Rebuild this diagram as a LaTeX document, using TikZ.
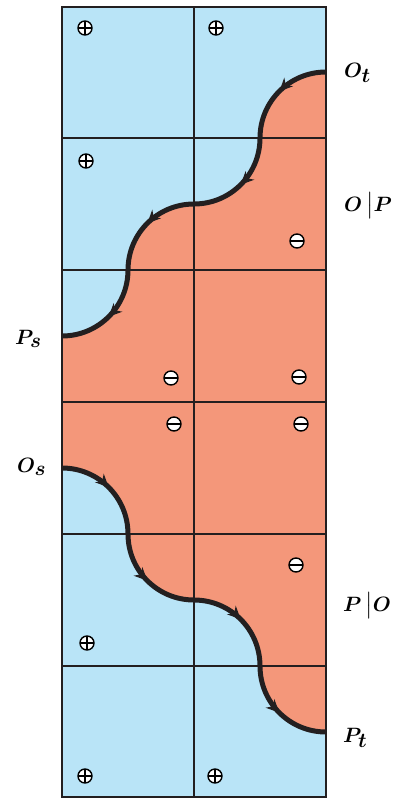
\documentclass[tikz,border=0pt]{standalone}
\usepackage{amsmath, amssymb}
\usepackage{tikz}
\usetikzlibrary{arrows.meta, decorations.markings}
\usepackage{xcolor}
\definecolor{cellblue}{HTML}{B9E4F7}
\definecolor{cellsalmon}{HTML}{F4977A}
\definecolor{gridink}{HTML}{231F20}

\tikzset{
  poscharge/.pic={
    \draw[fill=white, line width=1.4pt] (0,0) circle (7);
    \draw[line width=1.4pt] (-7,0) -- (7,0) (0,-7) -- (0,7);
  },
  negcharge/.pic={
    \draw[fill=white, line width=1.4pt] (0,0) circle (7);
    \draw[line width=1.4pt] (-7,0) -- (7,0);
  },
  flowline/.style={line width=5pt, gridink,
    decoration={markings,
      mark=between positions 0.125 and 1 step 0.25 with
        {\arrow{Stealth[length=13pt, width=12pt, inset=4pt]}}},
    postaction=decorate},
  edgelabel/.style={anchor=base west, inner sep=0pt,
    font=\fontsize{22}{26}\selectfont\boldmath}
}

\begin{document}
\begin{tikzpicture}[x=1pt, y=-1pt]
  \useasboundingbox (0,0) rectangle (397,798);

  % points where the two boundaries cross the grid
  \coordinate (Ot) at (326,72);  \coordinate (u1) at (260,138);
  \coordinate (u2) at (194,204); \coordinate (u3) at (128,270);
  \coordinate (Ps) at (62,336);
  \coordinate (Os) at (62,468);  \coordinate (l1) at (128,534);
  \coordinate (l2) at (194,600); \coordinate (l3) at (260,666);
  \coordinate (Pt) at (326,732);

  % blue background and salmon band
  \fill[cellblue] (62,7) rectangle (326,797);
  \fill[cellsalmon] (Ot)
    .. controls +(-36.5,0) and +(0,-36.5) .. (u1)
    .. controls +(0,36.5) and +(36.5,0) .. (u2)
    .. controls +(-36.5,0) and +(0,-36.5) .. (u3)
    .. controls +(0,36.5) and +(36.5,0) .. (Ps)
    -- (Os)
    .. controls +(36.5,0) and +(0,-36.5) .. (l1)
    .. controls +(0,36.5) and +(-36.5,0) .. (l2)
    .. controls +(36.5,0) and +(0,-36.5) .. (l3)
    .. controls +(0,36.5) and +(-36.5,0) .. (Pt)
    -- cycle;

  % grid
  \foreach \y in {138,270,402,534,666}
    \draw[gridink, line width=1.2pt] (62,\y) -- (326,\y);
  \draw[gridink, line width=1.2pt] (194,7) -- (194,797);
  \draw[gridink, line width=1.6pt] (62,7) rectangle (326,797);

  % boundaries
  \draw[flowline] (Ot)
    .. controls +(-36.5,0) and +(0,-36.5) .. (u1)
    .. controls +(0,36.5) and +(36.5,0) .. (u2)
    .. controls +(-36.5,0) and +(0,-36.5) .. (u3)
    .. controls +(0,36.5) and +(36.5,0) .. (Ps);
  \draw[flowline] (Os)
    .. controls +(36.5,0) and +(0,-36.5) .. (l1)
    .. controls +(0,36.5) and +(-36.5,0) .. (l2)
    .. controls +(36.5,0) and +(0,-36.5) .. (l3)
    .. controls +(0,36.5) and +(-36.5,0) .. (Pt);

  % charges
  \foreach \p in {(85,28),(216,28),(86,161),(87,643),(85,776),(215,776)}
    \pic at \p {poscharge};
  \foreach \p in {(297,241),(171,378),(299,377),(174,424),(301,424),(296,565)}
    \pic at \p {negcharge};

  % labels
  \node[edgelabel] (lblOt) at (344,77) {$O_{\textstyle t}$};
  \node[edgelabel] (lblOP) at (344,211) {$O\,\big|P$};
  \node[edgelabel] (lblPs) at (15,344) {$P_{\textstyle s}$};
  \node[edgelabel] (lblOs) at (17,472) {$O_{\textstyle s}$};
  \node[edgelabel] (lblPO) at (343,611) {$P\,\big|O$};
  \node[edgelabel] (lblPt) at (343,742) {$P_{\textstyle t}$};
\end{tikzpicture}
\end{document}
